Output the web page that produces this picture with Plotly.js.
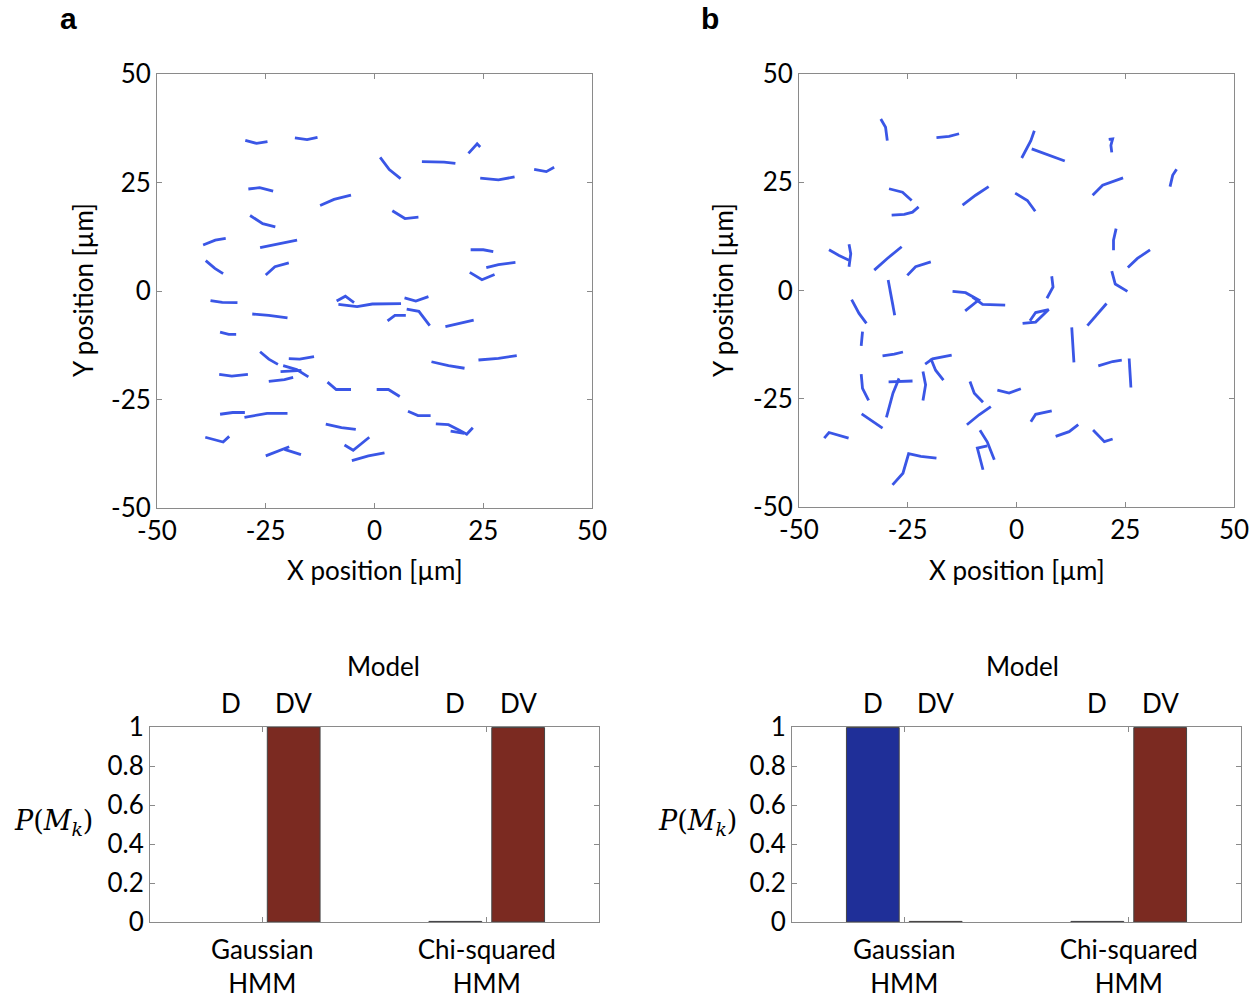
<!DOCTYPE html>
<html>
<head>
<meta charset="utf-8">
<script src="https://cdn.plot.ly/plotly-3.0.1.min.js"></script>
<style>
  html, body { margin: 0; padding: 0; background: #fff; }
  #fig { width: 1252px; height: 1000px; }
</style>
</head>
<body>
<div id="fig"></div>
<script>
// Panel a: particle trajectories (µm); null separates one track from the next
const trackAX = [
  -29.7, -27.1, -24.6, null,
  -18.3, -15.5, -13.1, null,
  1.3, 3.4, 6.0, null,
  10.9, 16.0, 18.6, null,
  21.6, 23.6, 24.3, null,
  24.3, 28.5, 32.2, null,
  36.7, 39.5, 41.3, null,
  -29.0, -26.4, -23.3, null,
  -12.5, -9.3, -5.4, null,
  4.1, 7.0, 10.1, null,
  -28.6, -25.7, -22.8, null,
  -39.4, -36.6, -34.2, null,
  -26.3, -22.5, -17.8, null,
  22.1, 25.0, 27.3, null,
  -38.8, -36.7, -34.8, null,
  -25.0, -22.9, -19.7, null,
  25.7, 28.5, 32.4, null,
  21.9, 24.7, 27.6, null,
  -37.7, -35.0, -31.5, null,
  -28.1, -24.3, -20.0, null,
  -8.7, -6.7, -4.7, null,
  -8.3, -4.0, -0.5, 6.1, null,
  6.9, 9.5, 12.4, null,
  3.0, 4.7, 7.2, null,
  7.4, 10.2, 12.7, null,
  16.3, 19.7, 22.8, null,
  -35.5, -33.5, -31.8, null,
  -26.3, -24.3, -22.2, null,
  -19.7, -17.2, -13.9, null,
  -21.0, -17.9, -15.2, null,
  -21.6, -16.8, null,
  -35.7, -32.8, -29.1, null,
  -24.3, -20.7, -18.7, null,
  13.1, 17.0, 20.7, null,
  23.9, 28.5, 32.7, null,
  -10.8, -8.8, -5.4, null,
  0.5, 3.2, 5.8, null,
  -35.5, -32.6, -29.8, null,
  -29.9, -24.7, -20.0, null,
  7.7, 10.0, 12.9, null,
  -11.2, -7.6, -4.3, null,
  14.1, 17.0, 19.4, 21.2, 22.6, null,
  17.5, 20.6, null,
  -38.9, -34.8, -33.4, null,
  -6.9, -4.9, -1.2, null,
  -25.0, -19.6, null,
  -20.7, -16.9, null,
  -5.2, -1.4, 2.3
];
const trackAY = [
  34.7, 34.0, 34.4, null,
  35.3, 34.9, 35.4, null,
  30.8, 28.0, 25.9, null,
  29.8, 29.7, 29.4, null,
  31.7, 33.9, 33.2, null,
  26.0, 25.6, 26.3, null,
  28.0, 27.5, 28.5, null,
  23.5, 23.8, 23.0, null,
  19.7, 21.1, 22.1, null,
  18.5, 16.7, 17.0, null,
  17.4, 15.5, 14.8, null,
  10.6, 11.7, 12.1, null,
  10.0, 10.8, 11.7, null,
  9.5, 9.5, 9.1, null,
  7.0, 5.2, 4.0, null,
  3.7, 5.6, 6.5, null,
  5.4, 6.1, 6.6, null,
  4.3, 2.6, 3.8, null,
  -2.2, -2.6, -2.7, null,
  -5.3, -5.6, -6.2, null,
  -2.3, -1.2, -2.7, null,
  -3.1, -3.6, -3.0, -2.9, null,
  -1.6, -2.3, -1.3, null,
  -6.9, -5.6, -5.6, null,
  -4.2, -4.7, -8.0, null,
  -8.2, -7.4, -6.7, null,
  -9.5, -10.0, -10.0, null,
  -14.0, -15.7, -16.9, null,
  -15.6, -15.7, -15.1, null,
  -17.2, -18.1, -19.8, null,
  -18.6, -18.3, null,
  -19.2, -19.6, -19.2, null,
  -20.8, -20.4, -19.9, null,
  -16.3, -17.2, -17.8, null,
  -15.9, -15.5, -14.9, null,
  -21.0, -22.7, -22.7, null,
  -22.7, -22.7, -24.3, null,
  -28.4, -28.0, -28.0, null,
  -29.1, -28.2, -28.2, null,
  -27.7, -28.7, -28.7, null,
  -30.7, -31.5, -31.9, null,
  -30.6, -30.8, -32.0, -33.0, -31.5, null,
  -32.3, -32.8, null,
  -33.7, -34.8, -33.5, null,
  -35.5, -36.7, -33.7, null,
  -38.0, -35.9, null,
  -36.5, -37.7, null,
  -39.1, -38.0, -37.3
];

// Panel b: particle trajectories (µm)
const trackBX = [
  -31.2, -30.1, -29.7, null,
  -18.4, -15.5, -13.2, null,
  4.1, 3.3, 1.2, null,
  3.5, 7.5, 11.1, null,
  21.2, 22.1, 21.7, 21.9, null,
  36.8, 35.9, 35.3, null,
  -29.3, -26.2, -24.1, null,
  -28.7, -25.8, -23.9, -22.5, null,
  -12.4, -9.4, -6.4, null,
  -0.3, 2.5, 4.3, null,
  17.5, 19.8, 24.5, null,
  -43.1, -40.8, -38.5, null,
  -38.5, -38.1, -38.5, null,
  -32.7, -29.7, -26.4, null,
  -25.1, -23.2, -19.7, null,
  22.9, 22.3, 22.3, null,
  25.6, 27.8, 30.7, null,
  21.9, 22.7, 25.5, null,
  8.1, 8.4, 7.0, null,
  -14.7, -11.7, -8.7, -11.8, null,
  -10.1, -7.8, -2.6, null,
  -29.5, -28.8, -28.0, null,
  -37.9, -36.2, -34.5, null,
  1.4, 4.4, 7.4, 4.4, 3.1, null,
  20.7, 18.3, 16.3, null,
  12.7, 13.0, 13.2, null,
  -35.4, -35.7, null,
  -30.8, -28.1, -26.1, null,
  -21.0, -19.3, -14.9, null,
  -19.7, -18.6, -16.8, null,
  18.8, 22.1, 24.2, null,
  25.9, 26.1, 26.3, null,
  -35.7, -35.4, -34.0, null,
  -29.4, -23.9, null,
  -27.0, -28.4, -29.9, null,
  -21.5, -20.9, -21.5, null,
  -10.7, -9.7, -7.7, null,
  -4.4, -1.7, 1.0, null,
  -35.6, -33.1, -30.8, null,
  -11.4, -8.6, -5.9, null,
  3.3, 4.4, 8.1, null,
  9.0, 12.1, 14.2, null,
  17.6, 20.2, 22.1, null,
  -44.2, -43.1, -38.6, null,
  -8.4, -6.7, -5.1, null,
  -6.7, -9.0, -7.7, null,
  -28.5, -26.1, -24.8, -22.0, -18.4
];
const trackBY = [
  39.6, 37.7, 34.6, null,
  35.3, 35.6, 36.2, null,
  36.9, 34.6, 30.6, null,
  32.7, 31.2, 29.9, null,
  34.9, 35.0, 33.5, 31.9, null,
  28.0, 26.6, 24.0, null,
  23.5, 22.7, 20.8, null,
  17.4, 17.6, 18.1, 19.3, null,
  19.7, 22.0, 24.0, null,
  22.5, 20.8, 18.3, null,
  22.0, 24.3, 26.0, null,
  9.4, 8.1, 7.0, null,
  10.7, 8.5, 5.5, null,
  4.7, 7.4, 10.1, null,
  3.5, 5.5, 6.6, null,
  14.3, 11.6, 9.3, null,
  5.3, 7.4, 9.4, null,
  4.5, 1.5, -0.2, null,
  3.3, 0.8, -1.8, null,
  -0.2, -0.5, -2.2, -4.7, null,
  -1.5, -3.2, -3.4, null,
  2.4, -1.5, -5.7, null,
  -2.1, -5.3, -7.6, null,
  -7.6, -7.3, -4.4, -5.1, -7.0, null,
  -3.0, -5.7, -8.1, null,
  -8.5, -12.2, -16.6, null,
  -9.5, -12.8, null,
  -15.1, -14.7, -14.2, null,
  -17.0, -15.8, -14.9, null,
  -15.7, -18.4, -20.7, null,
  -17.4, -16.4, -16.1, null,
  -15.7, -19.1, -22.4, null,
  -19.3, -22.6, -25.4, null,
  -21.1, -20.9, null,
  -20.3, -23.7, -29.3, null,
  -18.7, -21.8, -25.4, null,
  -21.0, -23.7, -25.8, null,
  -23.0, -23.7, -22.7, null,
  -28.5, -30.3, -31.8, null,
  -31.0, -28.7, -26.8, null,
  -30.3, -28.6, -27.8, null,
  -33.7, -32.6, -31.0, null,
  -32.2, -34.9, -34.3, null,
  -34.1, -32.8, -34.1, null,
  -32.3, -35.0, -39.1, null,
  -35.9, -36.4, -41.4, null,
  -44.9, -42.2, -37.7, -38.3, -38.7
];

// Model posterior probabilities P(M_k) per HMM type
const hmmTypes = ['Gaussian<br>HMM', 'Chi-squared<br>HMM'];
const modelNames = ['D', 'DV'];
const probA_D  = [0.0, 0.003];
const probA_DV = [1.0, 0.997];
const probB_D  = [0.997, 0.003];
const probB_DV = [0.003, 0.997];

const positionTicks = [-50, -25, 0, 25, 50];
const probTicks = [0, 0.2, 0.4, 0.6, 0.8, 1];

const FONT = 'Lato, "Open Sans", sans-serif';
const trackColor = '#3a56e6';
const colorD = '#1f2f98';
const colorDV = '#7b2a21';
const axisGray = '#8a8a8a';

// half spacing between the D and DV bars within one group
const barShift = 0.14;
const barWidth = 0.235;

function trackTrace(xs, ys, xa, ya) {
  return {
    type: 'scatter', mode: 'lines', x: xs, y: ys, xaxis: xa, yaxis: ya,
    connectgaps: false, hoverinfo: 'skip', showlegend: false,
    line: { color: trackColor, width: 2.8 }
  };
}

function barTrace(vals, color, shift, xa, ya) {
  return {
    type: 'bar', x: hmmTypes, y: vals, xaxis: xa, yaxis: ya,
    width: barWidth, offset: shift - barWidth / 2, showlegend: false,
    marker: {
      color: color,
      // empty bars get no outline at all
      line: { color: '#444', width: vals.map(v => (v > 0 ? 1 : 0)) }
    }
  };
}

const traces = [
  trackTrace(trackAX, trackAY, 'x', 'y'),
  trackTrace(trackBX, trackBY, 'x2', 'y2'),
  barTrace(probA_D, colorD, -barShift, 'x3', 'y3'),
  barTrace(probA_DV, colorDV, barShift, 'x3', 'y3'),
  barTrace(probB_D, colorD, -barShift, 'x4', 'y4'),
  barTrace(probB_DV, colorDV, barShift, 'x4', 'y4')
];

const W = 1252, H = 1000;
const px = v => v / W;
const py = v => 1 - v / H;

const baseAxis = {
  showgrid: false, zeroline: false, showline: true, linecolor: axisGray, linewidth: 1,
  mirror: 'ticks', ticks: 'inside', ticklen: 5, tickcolor: axisGray,
  tickfont: { family: FONT, size: 26, color: '#000' }, fixedrange: true
};

function posAxis(domain, anchor) {
  return Object.assign({}, baseAxis, {
    domain: domain, anchor: anchor, range: [-50, 50],
    tickmode: 'array', tickvals: positionTicks, ticktext: positionTicks.map(String)
  });
}

function catAxis(domain, anchor) {
  return Object.assign({}, baseAxis, {
    domain: domain, anchor: anchor, type: 'category', range: [-0.5, 1.5],
    ticklabelstandoff: 5,
    tickfont: { family: FONT, size: 26, color: '#000' }
  });
}

function probAxis(domain, anchor) {
  return Object.assign({}, baseAxis, {
    domain: domain, anchor: anchor, range: [0, 1],
    tickmode: 'array', tickvals: probTicks, ticktext: probTicks.map(String)
  });
}

const layout = {
  width: W, height: H,
  margin: { l: 0, r: 0, t: 0, b: 0 },
  paper_bgcolor: '#fff', plot_bgcolor: '#fff',
  font: { family: FONT, size: 26, color: '#000' },
  barmode: 'overlay',
  xaxis:  posAxis([px(157), px(592)], 'y'),
  yaxis:  posAxis([py(508), py(74)], 'x'),
  xaxis2: posAxis([px(799), px(1234)], 'y2'),
  yaxis2: posAxis([py(507), py(74)], 'x2'),
  xaxis3: catAxis([px(150), px(599)], 'y3'),
  yaxis3: probAxis([py(922), py(727)], 'x3'),
  xaxis4: catAxis([px(792), px(1241)], 'y4'),
  yaxis4: probAxis([py(922), py(727)], 'x4'),
  annotations: []
};

const ann = layout.annotations;
function text(t, x, y, opts) {
  ann.push(Object.assign({
    text: t, x: px(x), y: py(y), xref: 'paper', yref: 'paper',
    showarrow: false, xanchor: 'center', yanchor: 'middle',
    font: { family: FONT, size: 26, color: '#000' }
  }, opts || {}));
}

// panel letters
text('<b>a</b>', 68, 18, { font: { family: 'Liberation Sans, Arial, sans-serif', size: 30, color: '#000' } });
text('<b>b</b>', 710, 18, { font: { family: 'Liberation Sans, Arial, sans-serif', size: 30, color: '#000' } });

// scatter axis titles
text('X position [µm]', 375, 570);
text('X position [µm]', 1017, 570);
text('Y position [µm]', 83, 290, { textangle: -90 });
text('Y position [µm]', 723, 290, { textangle: -90 });

// bar chart labels
const pLabel = '<i>P</i>(<i>M<sub>k</sub></i>)';
const serif = { family: '"DejaVu Serif", "Liberation Serif", serif', size: 27, color: '#000' };
text(pLabel, 53, 822, { font: serif });
text(pLabel, 697, 822, { font: serif });
text('Model', 383, 666);
text('Model', 1022, 666);

// D / DV labels above each bar of every group
[['x3', 'y3'], ['x4', 'y4']].forEach(function (axes) {
  hmmTypes.forEach(function (_, gi) {
    modelNames.forEach(function (name, mi) {
      ann.push({
        text: name, xref: axes[0], yref: 'paper',
        x: gi + (mi === 0 ? -barShift : barShift), y: py(703),
        showarrow: false, xanchor: 'center', yanchor: 'middle',
        font: { family: FONT, size: 26, color: '#000' }
      });
    });
  });
});

Plotly.newPlot('fig', traces, layout, { displayModeBar: false, staticPlot: true });
</script>
</body>
</html>
